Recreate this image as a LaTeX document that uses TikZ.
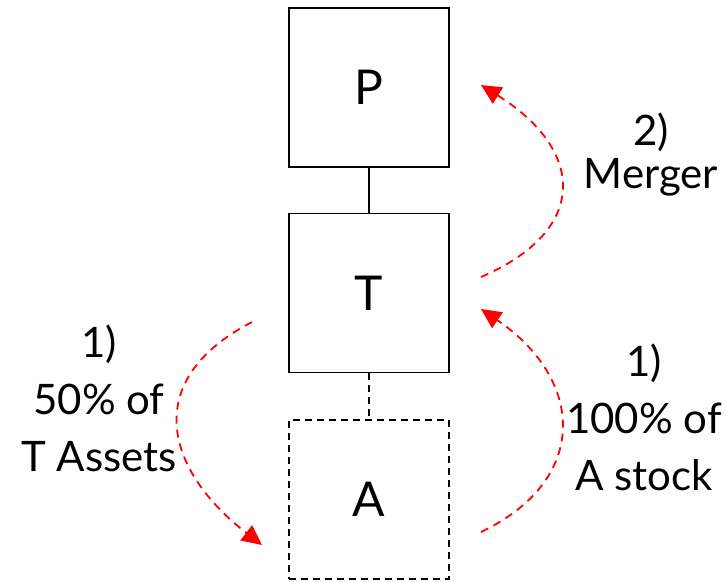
\documentclass[tikz,border=0pt]{standalone}
\usepackage{fontspec}
\setmainfont{Lato}
\usetikzlibrary{positioning, arrows.meta}
\definecolor{FlowRed}{RGB}{255,0,0}
\tikzset{
    entity/.style={
        draw, line width=1.6pt, minimum width=160pt, minimum height=159pt, inner sep=0pt,
        font=\fontsize{48}{50}\selectfont
    },
    flow/.style={
        -{Triangle[length=20pt,width=19pt]}, dashed, dash pattern=on 8pt off 6pt,
        line width=1.8pt, FlowRed
    },
    steplabel/.style={
        align=center, font=\fontsize{42}{57}\selectfont
    }
}
\begin{document}
\begin{tikzpicture}[x=1pt, y=-1pt]
    \useasboundingbox (0,0) rectangle (727,581);
    % the three entities
    \node[entity] (pbox) at (369,87.5) {P};
    \node[entity] (tbox) at (369,293) {T};
    \node[entity, dashed, dash pattern=on 7pt off 5pt] (abox) at (369,499.5) {A};
    \draw[line width=1.6pt] (pbox) -- (tbox);
    \draw[line width=1.6pt, dashed, dash pattern=on 7pt off 5pt] (tbox) -- (abox);
    % ends of the transfer arrows
    \coordinate (assetsout) at (252,322);
    \coordinate (assetsin) at (262,545);
    \coordinate (stockout) at (481,532);
    \coordinate (stockin) at (481,309);
    \coordinate (mergeout) at (481,277);
    \coordinate (mergein) at (481,85);
    \draw[flow] (assetsout) .. controls (140,380) and (165,470) .. (assetsin);
    \draw[flow] (stockout) .. controls (590,480) and (585,380) .. (stockin);
    \draw[flow] (mergeout) .. controls (590,230) and (585,150) .. (mergein);
    % labels
    \node[steplabel] (assetslbl) at (99,398) {1)\\50\% of\\T Assets};
    \node[steplabel] (stocklbl) at (644,417) {1)\\100\% of\\A stock};
    \node[steplabel, font=\fontsize{42}{43}\selectfont] (mergelbl) at (651,155) {2)\\Merger};
\end{tikzpicture}
\end{document}
